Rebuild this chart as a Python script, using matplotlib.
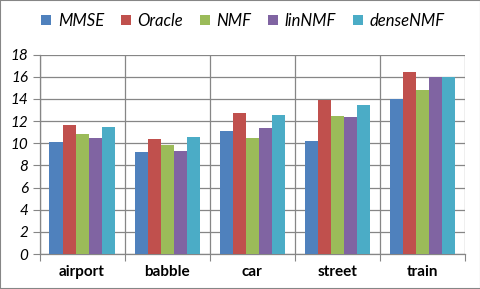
import numpy as np
import matplotlib.pyplot as plt
from matplotlib.patches import Rectangle

# noise types and SNR-like scores per method
categories = ['airport', 'babble', 'car', 'street', 'train']
methods = ['MMSE', 'Oracle', 'NMF', 'linNMF', 'denseNMF']
mmse     = [10.1, 9.2, 11.1, 10.2, 14.0]
oracle   = [11.65, 10.4, 12.75, 13.9, 16.45]
nmf      = [10.85, 9.85, 10.5, 12.45, 14.8]
linnmf   = [10.5, 9.3, 11.4, 12.4, 16.0]
densenmf = [11.5, 10.6, 12.55, 13.45, 16.0]
series = [mmse, oracle, nmf, linnmf, densenmf]
colors = ['#4F81BD', '#C0504D', '#9BBB59', '#8064A2', '#4BACC6']

plt.rcParams['font.family'] = ['Lato', 'DejaVu Sans']
grey = '#868686'

fig = plt.figure(figsize=(4.81, 2.89), dpi=100)
W, H = 481, 289
ax = fig.add_axes([39.5 / W, (H - 254) / H, (465 - 39.5) / W, (254 - 54.7) / H])

x = np.arange(len(categories))
bw = 0.153
for i, (vals, c, name) in enumerate(zip(series, colors, methods)):
    ax.bar(x + (i - 2) * bw, vals, bw, color=c, label=name, zorder=3)

ax.set_xlim(-0.5, 4.5)
ax.set_ylim(0, 18)
ax.set_yticks(np.arange(0, 19, 2))
ax.set_yticklabels([str(v) for v in range(0, 19, 2)], fontsize=11, style='italic')
ax.set_xticks(x)
ax.set_xticklabels(categories, fontsize=11, fontweight='bold')
ax.set_xticks(np.arange(-0.5, 5, 1), minor=True)
ax.tick_params(axis='x', which='major', length=0, pad=8)
ax.tick_params(axis='x', which='minor', length=5, width=0.8, color=grey)
ax.tick_params(axis='y', length=5, width=0.8, color=grey, pad=3)
ax.grid(axis='y', color=grey, linewidth=0.9, zorder=0)
ax.grid(axis='x', which='minor', color=grey, linewidth=0.9, zorder=0)
ax.set_axisbelow(True)
for s in ['top', 'right']:
    ax.spines[s].set_visible(False)
for s in ['left', 'bottom']:
    ax.spines[s].set_color(grey)
    ax.spines[s].set_linewidth(0.9)

leg = fig.legend(loc='center', bbox_to_anchor=(0.505, 1 - 21 / H), ncol=5, frameon=False,
                 prop={'size': 12, 'style': 'italic'}, handlelength=0.6, handleheight=0.6,
                 handletextpad=0.4, columnspacing=1.0)

fig.patches.append(Rectangle((0, 0), 1, 1, transform=fig.transFigure, fill=False,
                             edgecolor=grey, linewidth=1.5))

fig.savefig('out.png', dpi=100)
